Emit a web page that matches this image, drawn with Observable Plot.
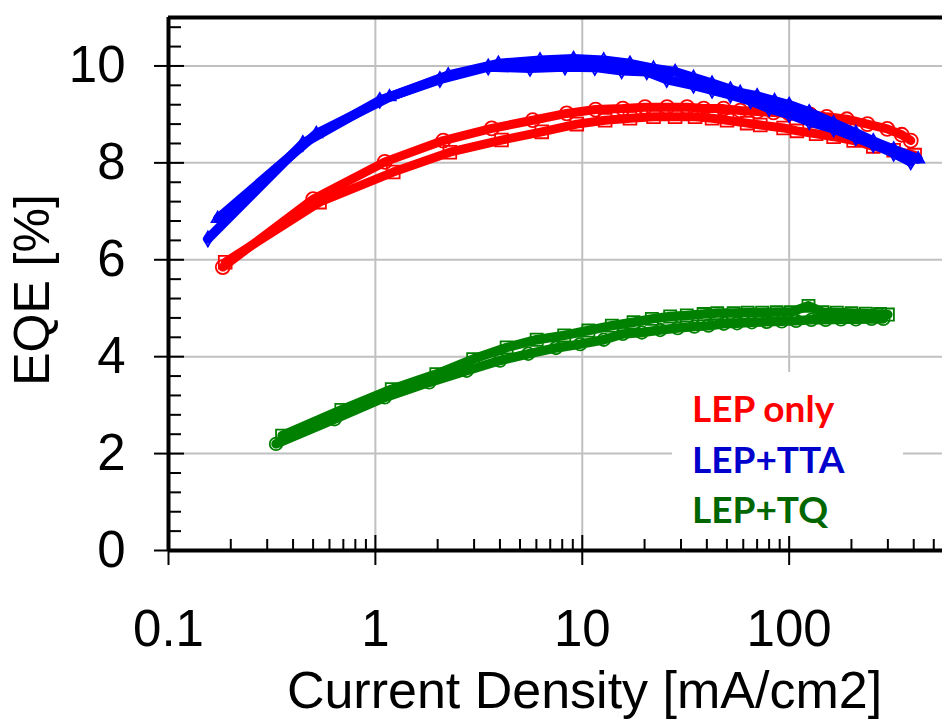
<!DOCTYPE html>
<html><head><meta charset="utf-8">
<script src="https://cdn.jsdelivr.net/npm/d3@7"></script>
<script src="https://cdn.jsdelivr.net/npm/@observablehq/plot@0.6"></script>
<style>
body{margin:0;background:#fff;}
#wrap{position:relative;width:942px;height:721px;overflow:hidden;}
#legend{position:absolute;left:0;top:0;pointer-events:none;}
</style></head><body><div id="wrap"></div>
<script>
// ---- data ----
const xDomain = [0.1, 551];
const yDomain = [0, 11];
const xMajor = [0.1, 1, 10, 100];
const xTickLabels = ["0.1", "1", "10", "100"];
const xMinor = [0.2,0.3,0.4,0.5,0.6,0.7,0.8,0.9, 2,3,4,5,6,7,8,9, 20,30,40,50,60,70,80,90, 200,300,400,500];
const xGrid = [1, 10, 100];
const yMajor = [0, 2, 4, 6, 8, 10];
const yTickLabels = ["0", "2", "4", "6", "8", "10"];
const yMinor = [0.4,0.8,1.2,1.6, 2.4,2.8,3.2,3.6, 4.4,4.8,5.2,5.6, 6.4,6.8,7.2,7.6, 8.4,8.8,9.2,9.6, 10.4,10.8];
const yGrid = [2, 4, 6, 8, 10];
const seriesNames = ["LEP only", "LEP+TTA", "LEP+TQ"];

// LEP only (red) - circles
const lepCircleX = [0.183, 0.50, 1.11, 2.13, 3.65, 5.76, 8.41, 11.6, 15.7, 20.1, 25.7, 32.1, 38.6, 48.2, 58, 70, 84, 100, 126, 152, 190, 239, 298, 350, 387];
const lepCircleY = [5.85, 7.25, 8.02, 8.46, 8.71, 8.88, 9.02, 9.10, 9.12, 9.15, 9.15, 9.15, 9.12, 9.12, 9.08, 9.06, 9.04, 9.02, 9.00, 8.95, 8.90, 8.80, 8.70, 8.58, 8.46];
// LEP only (red) - squares
const lepSquareX = [0.188, 0.537, 1.22, 2.29, 4.07, 6.37, 9.41, 12.9, 17.0, 22.1, 28.1, 35.1, 42.4, 50.1, 62.6, 72.5, 94, 109, 135, 164, 205, 255, 320, 404];
const lepSquareY = [5.95, 7.19, 7.81, 8.22, 8.47, 8.64, 8.80, 8.88, 8.92, 8.95, 8.95, 8.95, 8.92, 8.88, 8.82, 8.78, 8.72, 8.66, 8.60, 8.54, 8.46, 8.34, 8.26, 8.16];
// LEP+TTA (blue) - diamonds
const ttaDiamondX = [0.155, 0.446, 1.05, 2.05, 3.51, 5.59, 8.25, 11.5, 15.5, 20.5, 25.6, 34.5, 42.4, 52, 65, 80, 100, 125, 164, 210, 255, 320, 387];
const ttaDiamondY = [6.43, 8.40, 9.29, 9.72, 9.98, 9.95, 9.98, 9.97, 9.90, 9.88, 9.72, 9.60, 9.50, 9.40, 9.28, 9.12, 9.00, 8.85, 8.70, 8.52, 8.38, 8.20, 8.02];
// LEP+TTA (blue) - triangles
const ttaTriangleX = [0.173, 0.518, 1.17, 2.25, 3.93, 6.25, 9.07, 12.7, 17.0, 22.1, 28.1, 34.5, 42.4, 52, 58, 70, 85, 100, 125, 164, 210, 255, 320, 420];
const ttaTriangleY = [6.85, 8.60, 9.36, 9.81, 10.05, 10.12, 10.15, 10.12, 10.05, 9.95, 9.88, 9.76, 9.64, 9.52, 9.45, 9.38, 9.28, 9.20, 9.05, 8.82, 8.62, 8.45, 8.28, 8.08];
// LEP+TQ (green) - circles
const tqCircleX = [0.331, 0.635, 1.11, 1.82, 2.76, 4.0, 5.48, 7.46, 9.77, 12.7, 15.7, 19.4, 23.8, 28.9, 34.8, 40.7, 48.3, 56, 66, 78, 92, 108, 128, 150, 178, 210, 250, 285];
const tqCircleY = [2.20, 2.71, 3.16, 3.47, 3.71, 3.92, 4.06, 4.18, 4.26, 4.35, 4.47, 4.50, 4.55, 4.59, 4.62, 4.64, 4.68, 4.69, 4.71, 4.72, 4.73, 4.74, 4.76, 4.76, 4.77, 4.77, 4.78, 4.78];
// LEP+TQ (green) - squares
const tqSquareX = [0.354, 0.685, 1.20, 1.97, 2.97, 4.31, 6.02, 8.18, 10.7, 13.9, 17.7, 21.7, 26.6, 32, 38.6, 44.9, 53.9, 63, 74, 87, 102, 124, 145, 170, 200, 235, 275, 300];
const tqSquareY = [2.37, 2.90, 3.33, 3.64, 3.95, 4.19, 4.35, 4.44, 4.54, 4.64, 4.71, 4.78, 4.83, 4.85, 4.88, 4.90, 4.90, 4.91, 4.91, 4.92, 4.92, 5.05, 4.92, 4.91, 4.90, 4.89, 4.88, 4.87];

// ---- styles ----
const lineColors = {"LEP only": "#ff0000", "LEP+TTA": "#0000ff", "LEP+TQ": "#008000"};
const textColors = {"LEP only": "#ff0000", "LEP+TTA": "#0000cc", "LEP+TQ": "#006600"};

const curves = [
  {series: "LEP only", symbol: "square", xs: lepSquareX, ys: lepSquareY, r: 7.2, w: 9},
  {series: "LEP only", symbol: "circle", xs: lepCircleX, ys: lepCircleY, r: 7, w: 9},
  {series: "LEP+TTA", symbol: "diamond", xs: ttaDiamondX, ys: ttaDiamondY, r: 4.5, w: 9.5},
  {series: "LEP+TTA", symbol: "triangle", xs: ttaTriangleX, ys: ttaTriangleY, r: 4.5, w: 9.5},
  {series: "LEP+TQ", symbol: "square", xs: tqSquareX, ys: tqSquareY, r: 6.8, w: 9.5},
  {series: "LEP+TQ", symbol: "circle", xs: tqCircleX, ys: tqCircleY, r: 6.3, w: 9.5}
];
const table = c => c.xs.map((x, i) => ({x, y: c.ys[i]}));

const curveMarks = curves.flatMap(c => [
  Plot.line(table(c), {x: "x", y: "y", stroke: lineColors[c.series], strokeWidth: c.w, strokeLinejoin: "round", strokeLinecap: "round"}),
  Plot.dot(table(c), {x: "x", y: "y", symbol: c.symbol, r: c.r, stroke: lineColors[c.series], strokeWidth: 1.8, fill: "none"})
]);

const plot = Plot.plot({
  width: 942, height: 721,
  marginLeft: 168, marginRight: 0, marginTop: 17, marginBottom: 171,
  x: {type: "log", domain: xDomain},
  y: {domain: yDomain},
  style: {fontFamily: "'Liberation Sans', Arial, sans-serif", background: "white", color: "black", overflow: "visible"},
  marks: [
    Plot.ruleX(xGrid, {stroke: "#c0c0c0", strokeWidth: 2}),
    Plot.ruleY(yGrid, {stroke: "#c0c0c0", strokeWidth: 2}),
    ...curveMarks,
    // frame lines
    Plot.ruleY([yDomain[1]], {stroke: "black", strokeWidth: 4}),
    Plot.ruleY([yDomain[0]], {stroke: "black", strokeWidth: 4}),
    Plot.ruleX([xDomain[0]], {stroke: "black", strokeWidth: 4}),
    // y axis
    Plot.axisY(yMajor, {anchor: "left", tickSize: 14, tickPadding: 29, fontSize: 51, strokeWidth: 2, tickFormat: d => yTickLabels[yMajor.indexOf(d)], label: null}),
    Plot.axisY(yMajor, {anchor: "left", tickSize: -16, strokeWidth: 2, tickFormat: () => "", label: null}),
    Plot.axisY(yMinor, {anchor: "left", tickSize: -13, strokeWidth: 2, tickFormat: () => "", label: null}),
    // x axis
    Plot.axisX(xMajor, {anchor: "bottom", tickSize: 15, tickPadding: 44, fontSize: 51, strokeWidth: 2, tickFormat: d => xTickLabels[xMajor.indexOf(d)], label: null}),
    Plot.axisX(xMajor, {anchor: "bottom", tickSize: -15, strokeWidth: 2, tickFormat: () => "", label: null}),
    Plot.axisX(xMinor, {anchor: "bottom", tickSize: -11, strokeWidth: 2, tickFormat: () => "", label: null}),
    // axis titles
    Plot.text(["Current Density [mA/cm2]"], {frameAnchor: "bottom", dx: 29, dy: 141, lineAnchor: "middle", fontSize: 52, fill: "black"}),
    Plot.text(["EQE [%]"], {frameAnchor: "left", rotate: -90, textAnchor: "middle", dx: -136, dy: 6, lineAnchor: "middle", fontSize: 50, fill: "black"})
  ]
});
const wrap = document.getElementById("wrap");
wrap.appendChild(plot);

// legend overlay (white box covering gridlines)
const ns = "http://www.w3.org/2000/svg";
const leg = document.createElementNS(ns, "svg");
leg.setAttribute("id", "legend");
leg.setAttribute("width", 942); leg.setAttribute("height", 721);
const box = document.createElementNS(ns, "rect");
box.setAttribute("x", 672); box.setAttribute("y", 372); box.setAttribute("width", 231); box.setAttribute("height", 164); box.setAttribute("fill", "white");
leg.appendChild(box);
seriesNames.forEach((name, i) => {
  const t = document.createElementNS(ns, "text");
  t.setAttribute("x", 692); t.setAttribute("y", 422 + i * 50.5);
  t.setAttribute("fill", textColors[name]);
  t.setAttribute("font-family", "Lato, 'Open Sans', sans-serif");
  t.setAttribute("font-weight", "bold");
  t.setAttribute("font-size", 37);
  t.textContent = name;
  leg.appendChild(t);
});
wrap.appendChild(leg);
</script>
</body></html>
